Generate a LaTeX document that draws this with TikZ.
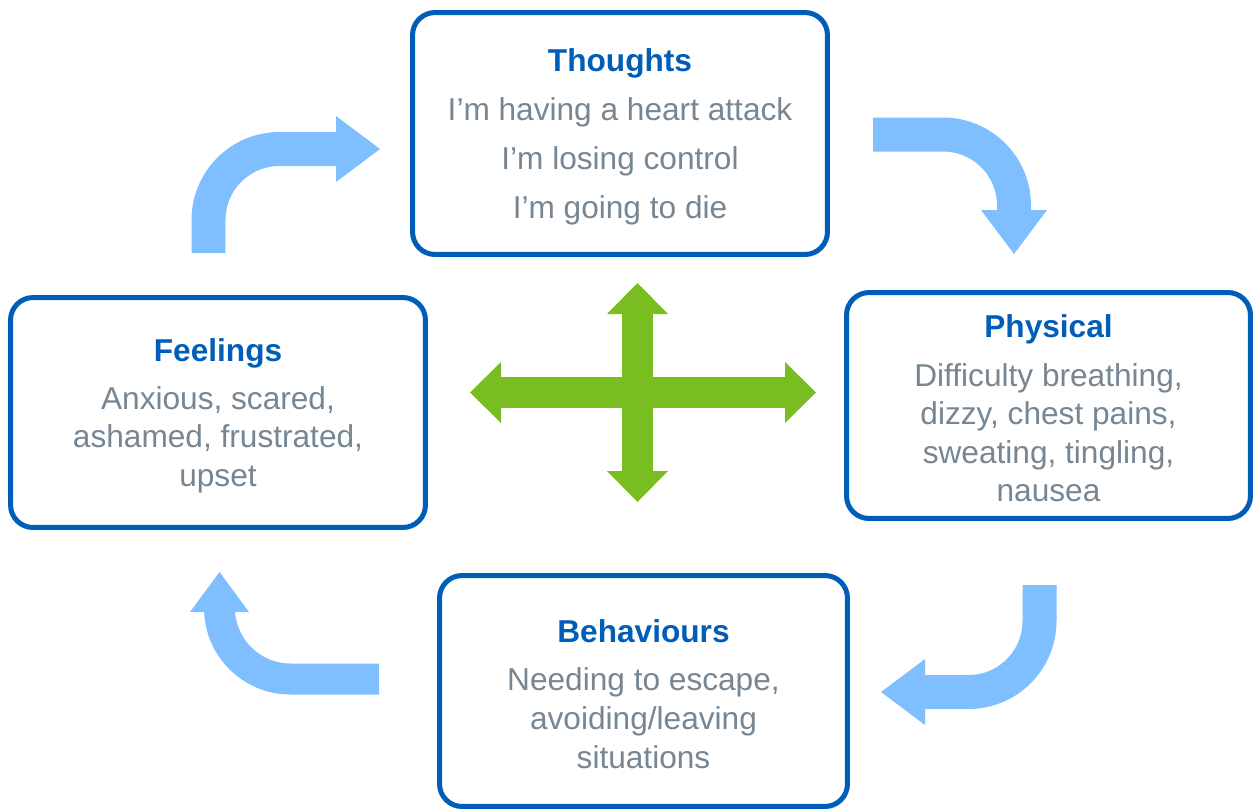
\documentclass[tikz,border=0pt]{standalone}
\usepackage{fontspec}
\setmainfont{Liberation Sans}
\usetikzlibrary{arrows.meta}

\definecolor{boxblue}{HTML}{005EB8}
\definecolor{textgrey}{HTML}{768692}
\definecolor{cycleblue}{HTML}{80BFFF}
\definecolor{crossgreen}{HTML}{78BE20}

% title line of a box, with a strut to sit it a little lower
\newcommand{\boxtitle}[1]{{\rule{0pt}{16.6pt}\bfseries\color{boxblue}#1}}

\tikzset{
  box/.style={draw=boxblue, line width=0.1cm, rounded corners=0.45cm,
    align=center, inner sep=0pt, text=textgrey,
    font=\fontsize{18}{22}\selectfont},
  cyclearrow/.style={draw=cycleblue, line width=0.68cm, rounded corners=1.42cm,
    -{Triangle[width=1.32cm,length=0.88cm,line width=0pt]}},
  crossarrow/.style={draw=crossgreen, line width=0.62cm,
    {Triangle[width=1.22cm,length=0.62cm,line width=0pt]}-{Triangle[width=1.22cm,length=0.62cm,line width=0pt]}}
}

\begin{document}
\begin{tikzpicture}[x=0.02cm, y=-0.02cm] % 1 unit = 1 px, y pointing down
\useasboundingbox (0,0) rectangle (1254,809);

%% the four boxes
\node[box, minimum width=8.3cm, minimum height=4.84cm] (thoughts) at (620,133.5)
  {\boxtitle{Thoughts}\\[6pt] I’m having a heart attack\\[6pt] I’m losing control\\[6pt] I’m going to die};
\node[box, minimum width=8.08cm, minimum height=4.52cm] (physical) at (1048.5,405.5)
  {\boxtitle{Physical}\\[5.4pt] Difficulty breathing,\\ dizzy, chest pains,\\ sweating, tingling,\\ nausea};
\node[box, minimum width=8.16cm, minimum height=4.62cm] (behaviours) at (643.5,691)
  {\boxtitle{Behaviours}\\[5.4pt] Needing to escape,\\ avoiding/leaving\\ situations};
\node[box, minimum width=8.3cm, minimum height=4.6cm] (feelings) at (218,412.5)
  {\boxtitle{Feelings}\\[5.4pt] Anxious, scared,\\ ashamed, frustrated,\\ upset};

%% cycle arrows, clockwise
\draw[cyclearrow] (208.5,253) |- (380,149);
\draw[cyclearrow] (873,134.5) -| (1014,254);
\draw[cyclearrow] (1039.5,585) |- (881,692);
\draw[cyclearrow, line width=0.62cm, -{Triangle[width=1.18cm,length=0.8cm,line width=0pt]}]
  (379,679) -| (219.5,572);

% cross in the middle
\draw[crossarrow] (470,392.5) -- (816,392.5);
\draw[crossarrow] (637.5,283) -- (637.5,502);

\end{tikzpicture}
\end{document}
